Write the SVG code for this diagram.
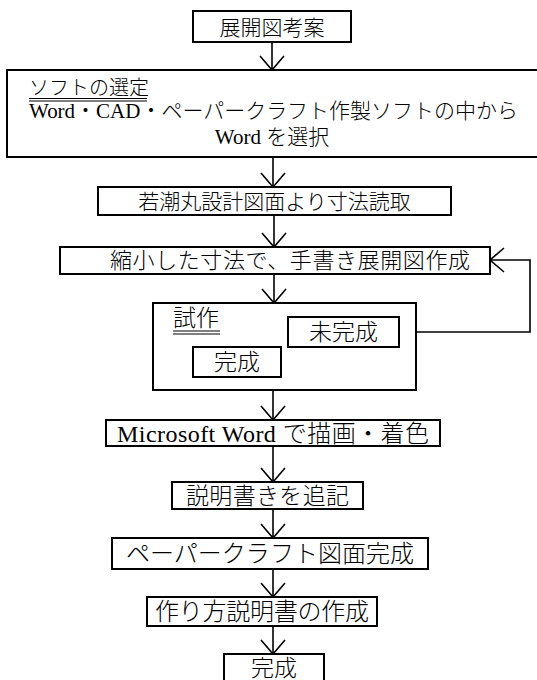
<svg xmlns="http://www.w3.org/2000/svg" width="537" height="680" viewBox="0 0 537 680">
<style>
.box{fill:#fff;stroke:#000;stroke-width:2}
.c{fill:none;stroke:#000;stroke-width:1.6}
.ul{stroke:#000;stroke-width:1}
text{font-family:"Liberation Serif","Noto Sans CJK JP",serif;fill:#000;font-weight:300}
.m{text-anchor:middle}
</style>
<defs>
<marker id="v" viewBox="-16 -14 18 28" markerWidth="18" markerHeight="28" refX="0" refY="0" orient="auto" markerUnits="userSpaceOnUse">
<path d="M-14,-12 L0,0 L-14,12" fill="none" stroke="#000" stroke-width="1.6"/>
</marker>
</defs>
<rect width="537" height="680" fill="#fff"/>
<g id="connectors">
<path class="c" d="M272,42 V70" marker-end="url(#v)"/>
<path class="c" d="M273,157 V187" marker-end="url(#v)"/>
<path class="c" d="M274,215 V247" marker-end="url(#v)"/>
<path class="c" d="M274,274 V303" marker-end="url(#v)"/>
<path class="c" d="M399,332 H530 V260 H490" marker-end="url(#v)"/>
<path class="c" d="M273,377 V420" marker-end="url(#v)"/>
<path class="c" d="M273,446 V482" marker-end="url(#v)"/>
<path class="c" d="M273,509 V538" marker-end="url(#v)"/>
<path class="c" d="M273,569 V597" marker-end="url(#v)"/>
<path class="c" d="M273,626 V654" marker-end="url(#v)"/>
</g>
<g id="n1">
<rect class="box" x="193" y="11" width="158" height="31"/>
<text class="m" x="272" y="35" font-size="21">展開図考案</text>
</g>
<g id="n2">
<rect class="box" x="7" y="70" width="540" height="87"/>
<text x="29" y="95" font-size="20">ソフトの選定</text>
<line class="ul" x1="29" y1="98.5" x2="147" y2="98.5"/>
<line class="ul" x1="29" y1="101" x2="147" y2="101"/>
<text x="29" y="118" font-size="21" textLength="489" lengthAdjust="spacing">Word・CAD・ペーパークラフト作製ソフトの中から</text>
<text class="m" x="272" y="144" font-size="21">Word を選択</text>
</g>
<g id="n3">
<rect class="box" x="98" y="187" width="353" height="28"/>
<text class="m" x="274.5" y="208.5" font-size="21">若潮丸設計図面より寸法読取</text>
</g>
<g id="n4">
<rect class="box" x="60" y="247" width="430" height="27"/>
<text x="110" y="268" font-size="22" textLength="360" lengthAdjust="spacing">縮小した寸法で、手書き展開図作成</text>
</g>
<g id="n5">
<rect class="box" x="153" y="303" width="263" height="87"/>
<text x="173" y="326" font-size="23">試作</text>
<line class="ul" x1="173" y1="331" x2="220" y2="331"/>
<line class="ul" x1="173" y1="334" x2="220" y2="334"/>
</g>
<g id="n6">
<rect class="box" x="288" y="317" width="111" height="30"/>
<text class="m" x="343.5" y="340" font-size="23">未完成</text>
</g>
<g id="n7">
<rect class="box" x="193" y="347" width="88" height="30"/>
<text class="m" x="237" y="370" font-size="23">完成</text>
</g>
<g id="n8">
<rect class="box" x="106" y="420" width="334" height="26"/>
<text class="m" x="273" y="441.5" font-size="24" textLength="312" lengthAdjust="spacing">Microsoft Word で描画・着色</text>
</g>
<g id="n9">
<rect class="box" x="172" y="482" width="191" height="27"/>
<text class="m" x="267.5" y="504" font-size="23" textLength="163" lengthAdjust="spacing">説明書きを追記</text>
</g>
<g id="n10">
<rect class="box" x="112" y="538" width="316" height="31"/>
<text class="m" x="270" y="562" font-size="24" textLength="288" lengthAdjust="spacing">ペーパークラフト図面完成</text>
</g>
<g id="n11">
<rect class="box" x="147" y="597" width="230" height="29"/>
<text class="m" x="262" y="620" font-size="24" textLength="214" lengthAdjust="spacing">作り方説明書の作成</text>
</g>
<g id="n12">
<rect class="box" x="224" y="654" width="100" height="40"/>
<text class="m" x="274" y="676" font-size="23">完成</text>
</g>
</svg>
